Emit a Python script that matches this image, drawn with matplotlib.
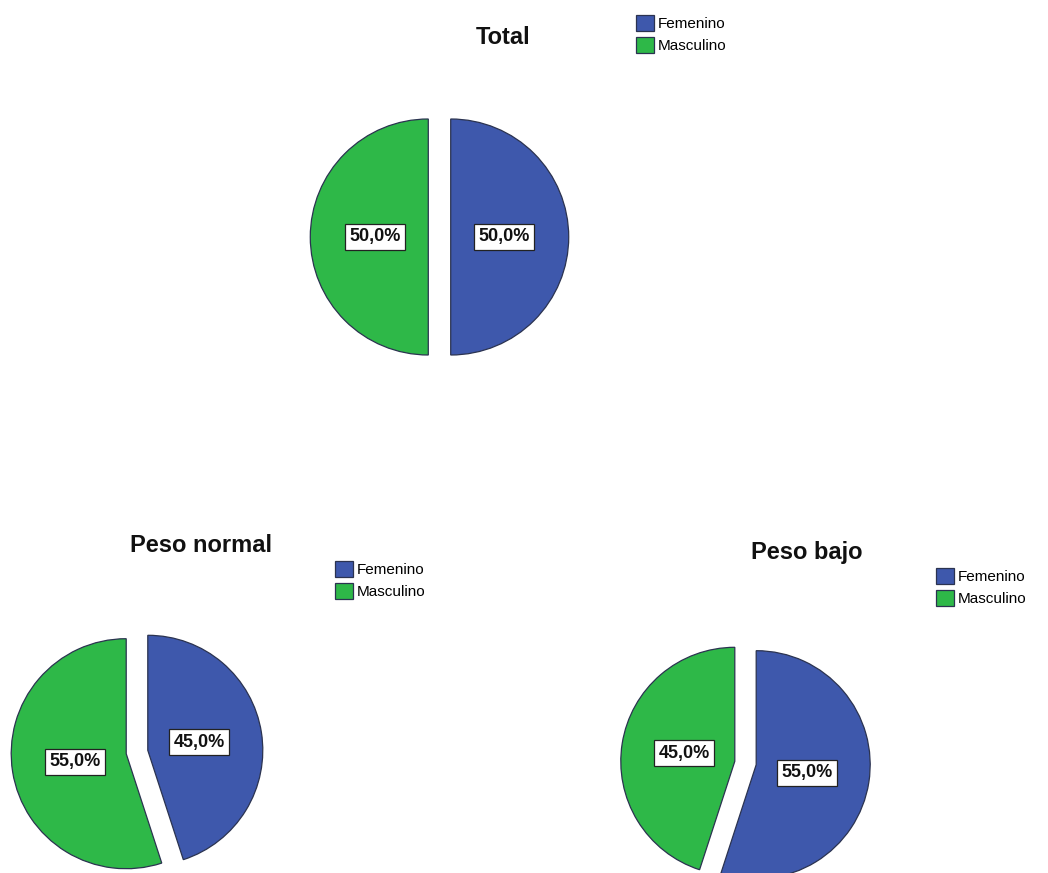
import matplotlib.pyplot as plt

categories = ['Femenino', 'Masculino']
colors = ['#3E58AC', '#2EB848']

titles = ['Total', 'Peso normal', 'Peso bajo']
total_vals = [50.0, 50.0]
normal_vals = [45.0, 55.0]
bajo_vals = [55.0, 45.0]

W, H = 1048, 873
plt.rcParams['font.family'] = ['Liberation Sans', 'DejaVu Sans']


def fmt(p):
    return ('%.1f%%' % p).replace('.', ',')


def draw_pie(fig, vals, cx, cy, r, title, tpos, lpos):
    # axes in pixel units, pie radius 1 -> r pixels
    L = 1.4
    side = 2 * L * r
    ax = fig.add_axes([(cx - side / 2) / W, 1 - (cy + side / 2) / H, side / W, side / H])
    wedges, texts, autotexts = ax.pie(
        vals, colors=colors, startangle=90, counterclock=False,
        explode=[0.095, 0.095], autopct=fmt, pctdistance=0.45,
        wedgeprops=dict(edgecolor='#2b3350', linewidth=0.9),
        textprops=dict(fontsize=13, fontweight='bold', color='#111111'))
    for t in autotexts:
        t.set_bbox(dict(boxstyle='square,pad=0.25', fc='white', ec='#222222', lw=0.9))
    ax.set_xlim(-L, L)
    ax.set_ylim(-L, L)
    ax.set_aspect('equal')
    ax.axis('off')
    for w in wedges:
        w.set_clip_on(False)
    fig.text(tpos[0] / W, 1 - tpos[1] / H, title, ha='center', va='center',
             fontsize=17, fontweight='bold', color='#111111')
    fig.legend(wedges, categories, loc='upper left',
               bbox_to_anchor=(lpos[0] / W, 1 - lpos[1] / H),
               frameon=False, fontsize=11, handlelength=1.2, handleheight=1.25,
               handletextpad=0.2, labelspacing=0.35, borderpad=0, borderaxespad=0)


fig = plt.figure(figsize=(W / 100, H / 100), dpi=100)
draw_pie(fig, total_vals, 439.5, 237, 118, titles[0], (503, 38), (636, 15))
draw_pie(fig, normal_vals, 137, 752, 115, titles[1], (201, 546), (335, 561))
draw_pie(fig, bajo_vals, 745.5, 763, 114, titles[2], (807, 552), (936, 568))
fig.savefig('out.png', dpi=100)
